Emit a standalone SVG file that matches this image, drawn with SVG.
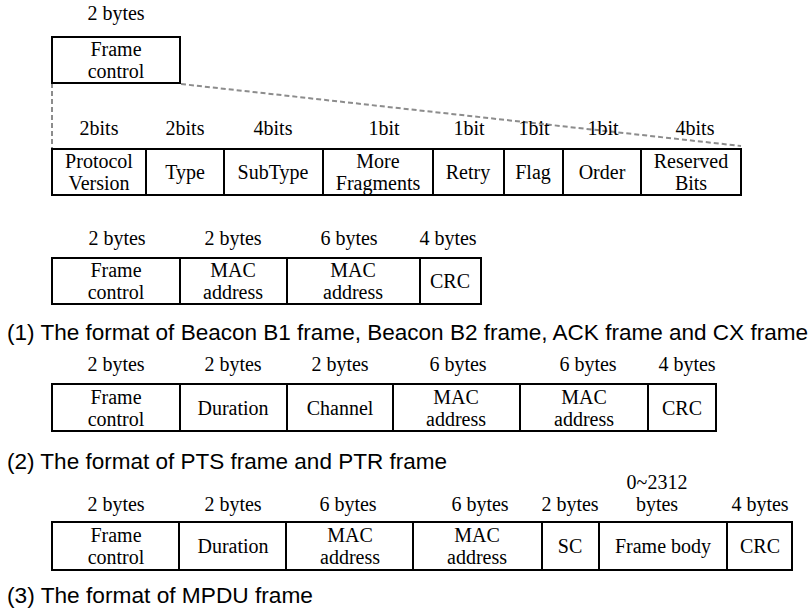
<svg xmlns="http://www.w3.org/2000/svg" width="811" height="610" viewBox="0 0 811 610">
<style>
.bg{fill:#ffffff}
.cell{fill:#ffffff;stroke:#000000;stroke-width:2}
.t{font-family:'Liberation Serif','Times New Roman','DejaVu Serif',serif;font-size:20px;fill:#000000;text-anchor:middle}
.cap{font-family:'Liberation Sans',Arial,sans-serif;font-size:22px;fill:#000000}
.dash{fill:none;stroke:#8c8c8c;stroke-width:2;stroke-dasharray:5,3}
</style>
<rect class="bg" x="0" y="0" width="811" height="610"/>

<g id="connectors">
<line class="dash" x1="52" y1="83" x2="52" y2="148"/>
<line class="dash" x1="181" y1="84" x2="741" y2="146"/>
</g>

<g id="top-frame-control">
<text class="t" x="116" y="20">2 bytes</text>
<rect class="cell" x="52" y="37" width="128" height="46"/>
<text class="t" x="116" y="56">Frame</text>
<text class="t" x="116" y="78">control</text>
</g>

<g id="fc-bits">
<g id="bit-protocol-version">
<text class="t" x="99" y="135">2bits</text>
<rect class="cell" x="52" y="149" width="94" height="46"/>
<text class="t" x="99" y="168">Protocol</text>
<text class="t" x="99" y="190">Version</text>
</g>
<g id="bit-type">
<text class="t" x="185" y="135">2bits</text>
<rect class="cell" x="146" y="149" width="78" height="46"/>
<text class="t" x="185" y="179">Type</text>
</g>
<g id="bit-subtype">
<text class="t" x="273" y="135">4bits</text>
<rect class="cell" x="224" y="149" width="99" height="46"/>
<text class="t" x="273" y="179">SubType</text>
</g>
<g id="bit-more-fragments">
<text class="t" x="384" y="135">1bit</text>
<rect class="cell" x="323" y="149" width="110" height="46"/>
<text class="t" x="378" y="168">More</text>
<text class="t" x="378" y="190">Fragments</text>
</g>
<g id="bit-retry">
<text class="t" x="469" y="135">1bit</text>
<rect class="cell" x="433" y="149" width="71" height="46"/>
<text class="t" x="468" y="179">Retry</text>
</g>
<g id="bit-flag">
<text class="t" x="534" y="135">1bit</text>
<rect class="cell" x="504" y="149" width="59" height="46"/>
<text class="t" x="533" y="179">Flag</text>
</g>
<g id="bit-order">
<text class="t" x="603" y="135">1bit</text>
<rect class="cell" x="563" y="149" width="78" height="46"/>
<text class="t" x="602" y="179">Order</text>
</g>
<g id="bit-reserved">
<text class="t" x="695" y="135">4bits</text>
<rect class="cell" x="641" y="149" width="100" height="46"/>
<text class="t" x="691" y="168">Reserved</text>
<text class="t" x="691" y="190">Bits</text>
</g>
</g>

<g id="frame1">
<g id="f1-frame-control">
<text class="t" x="117" y="245">2 bytes</text>
<rect class="cell" x="52" y="258" width="128" height="46"/>
<text class="t" x="116" y="277">Frame</text>
<text class="t" x="116" y="299">control</text>
</g>
<g id="f1-mac1">
<text class="t" x="233" y="245">2 bytes</text>
<rect class="cell" x="180" y="258" width="107" height="46"/>
<text class="t" x="233" y="277">MAC</text>
<text class="t" x="233" y="299">address</text>
</g>
<g id="f1-mac2">
<text class="t" x="349" y="245">6 bytes</text>
<rect class="cell" x="287" y="258" width="133" height="46"/>
<text class="t" x="353" y="277">MAC</text>
<text class="t" x="353" y="299">address</text>
</g>
<g id="f1-crc">
<text class="t" x="448" y="245">4 bytes</text>
<rect class="cell" x="420" y="258" width="61" height="46"/>
<text class="t" x="450" y="288">CRC</text>
</g>
<text class="cap" x="7" y="340" textLength="801" lengthAdjust="spacingAndGlyphs">(1) The format of Beacon B1 frame, Beacon B2 frame, ACK frame and CX frame</text>
</g>

<g id="frame2">
<g id="f2-frame-control">
<text class="t" x="116" y="371">2 bytes</text>
<rect class="cell" x="52" y="384" width="128" height="47"/>
<text class="t" x="116" y="404">Frame</text>
<text class="t" x="116" y="426">control</text>
</g>
<g id="f2-duration">
<text class="t" x="233" y="371">2 bytes</text>
<rect class="cell" x="180" y="384" width="107" height="47"/>
<text class="t" x="233" y="415">Duration</text>
</g>
<g id="f2-channel">
<text class="t" x="340" y="371">2 bytes</text>
<rect class="cell" x="287" y="384" width="106" height="47"/>
<text class="t" x="340" y="415">Channel</text>
</g>
<g id="f2-mac1">
<text class="t" x="458" y="371">6 bytes</text>
<rect class="cell" x="393" y="384" width="127" height="47"/>
<text class="t" x="456" y="404">MAC</text>
<text class="t" x="456" y="426">address</text>
</g>
<g id="f2-mac2">
<text class="t" x="588" y="371">6 bytes</text>
<rect class="cell" x="520" y="384" width="128" height="47"/>
<text class="t" x="584" y="404">MAC</text>
<text class="t" x="584" y="426">address</text>
</g>
<g id="f2-crc">
<text class="t" x="687" y="371">4 bytes</text>
<rect class="cell" x="648" y="384" width="68" height="47"/>
<text class="t" x="682" y="415">CRC</text>
</g>
<text class="cap" x="7" y="469" textLength="440" lengthAdjust="spacingAndGlyphs">(2) The format of PTS frame and PTR frame</text>
</g>

<g id="frame3">
<g id="f3-frame-control">
<text class="t" x="116" y="511">2 bytes</text>
<rect class="cell" x="52" y="522" width="127" height="48"/>
<text class="t" x="116" y="542">Frame</text>
<text class="t" x="116" y="564">control</text>
</g>
<g id="f3-duration">
<text class="t" x="233" y="511">2 bytes</text>
<rect class="cell" x="179" y="522" width="107" height="48"/>
<text class="t" x="233" y="553">Duration</text>
</g>
<g id="f3-mac1">
<text class="t" x="348" y="511">6 bytes</text>
<rect class="cell" x="286" y="522" width="127" height="48"/>
<text class="t" x="350" y="542">MAC</text>
<text class="t" x="350" y="564">address</text>
</g>
<g id="f3-mac2">
<text class="t" x="480" y="511">6 bytes</text>
<rect class="cell" x="413" y="522" width="129" height="48"/>
<text class="t" x="477" y="542">MAC</text>
<text class="t" x="477" y="564">address</text>
</g>
<g id="f3-sc">
<text class="t" x="570" y="511">2 bytes</text>
<rect class="cell" x="542" y="522" width="57" height="48"/>
<text class="t" x="570" y="553">SC</text>
</g>
<g id="f3-frame-body">
<text class="t" x="657" y="489">0~2312</text>
<text class="t" x="657" y="511">bytes</text>
<rect class="cell" x="599" y="522" width="128" height="48"/>
<text class="t" x="663" y="553">Frame body</text>
</g>
<g id="f3-crc">
<text class="t" x="760" y="511">4 bytes</text>
<rect class="cell" x="727" y="522" width="65" height="48"/>
<text class="t" x="760" y="553">CRC</text>
</g>
<text class="cap" x="7" y="603" textLength="306" lengthAdjust="spacingAndGlyphs">(3) The format of MPDU frame</text>
</g>
</svg>
